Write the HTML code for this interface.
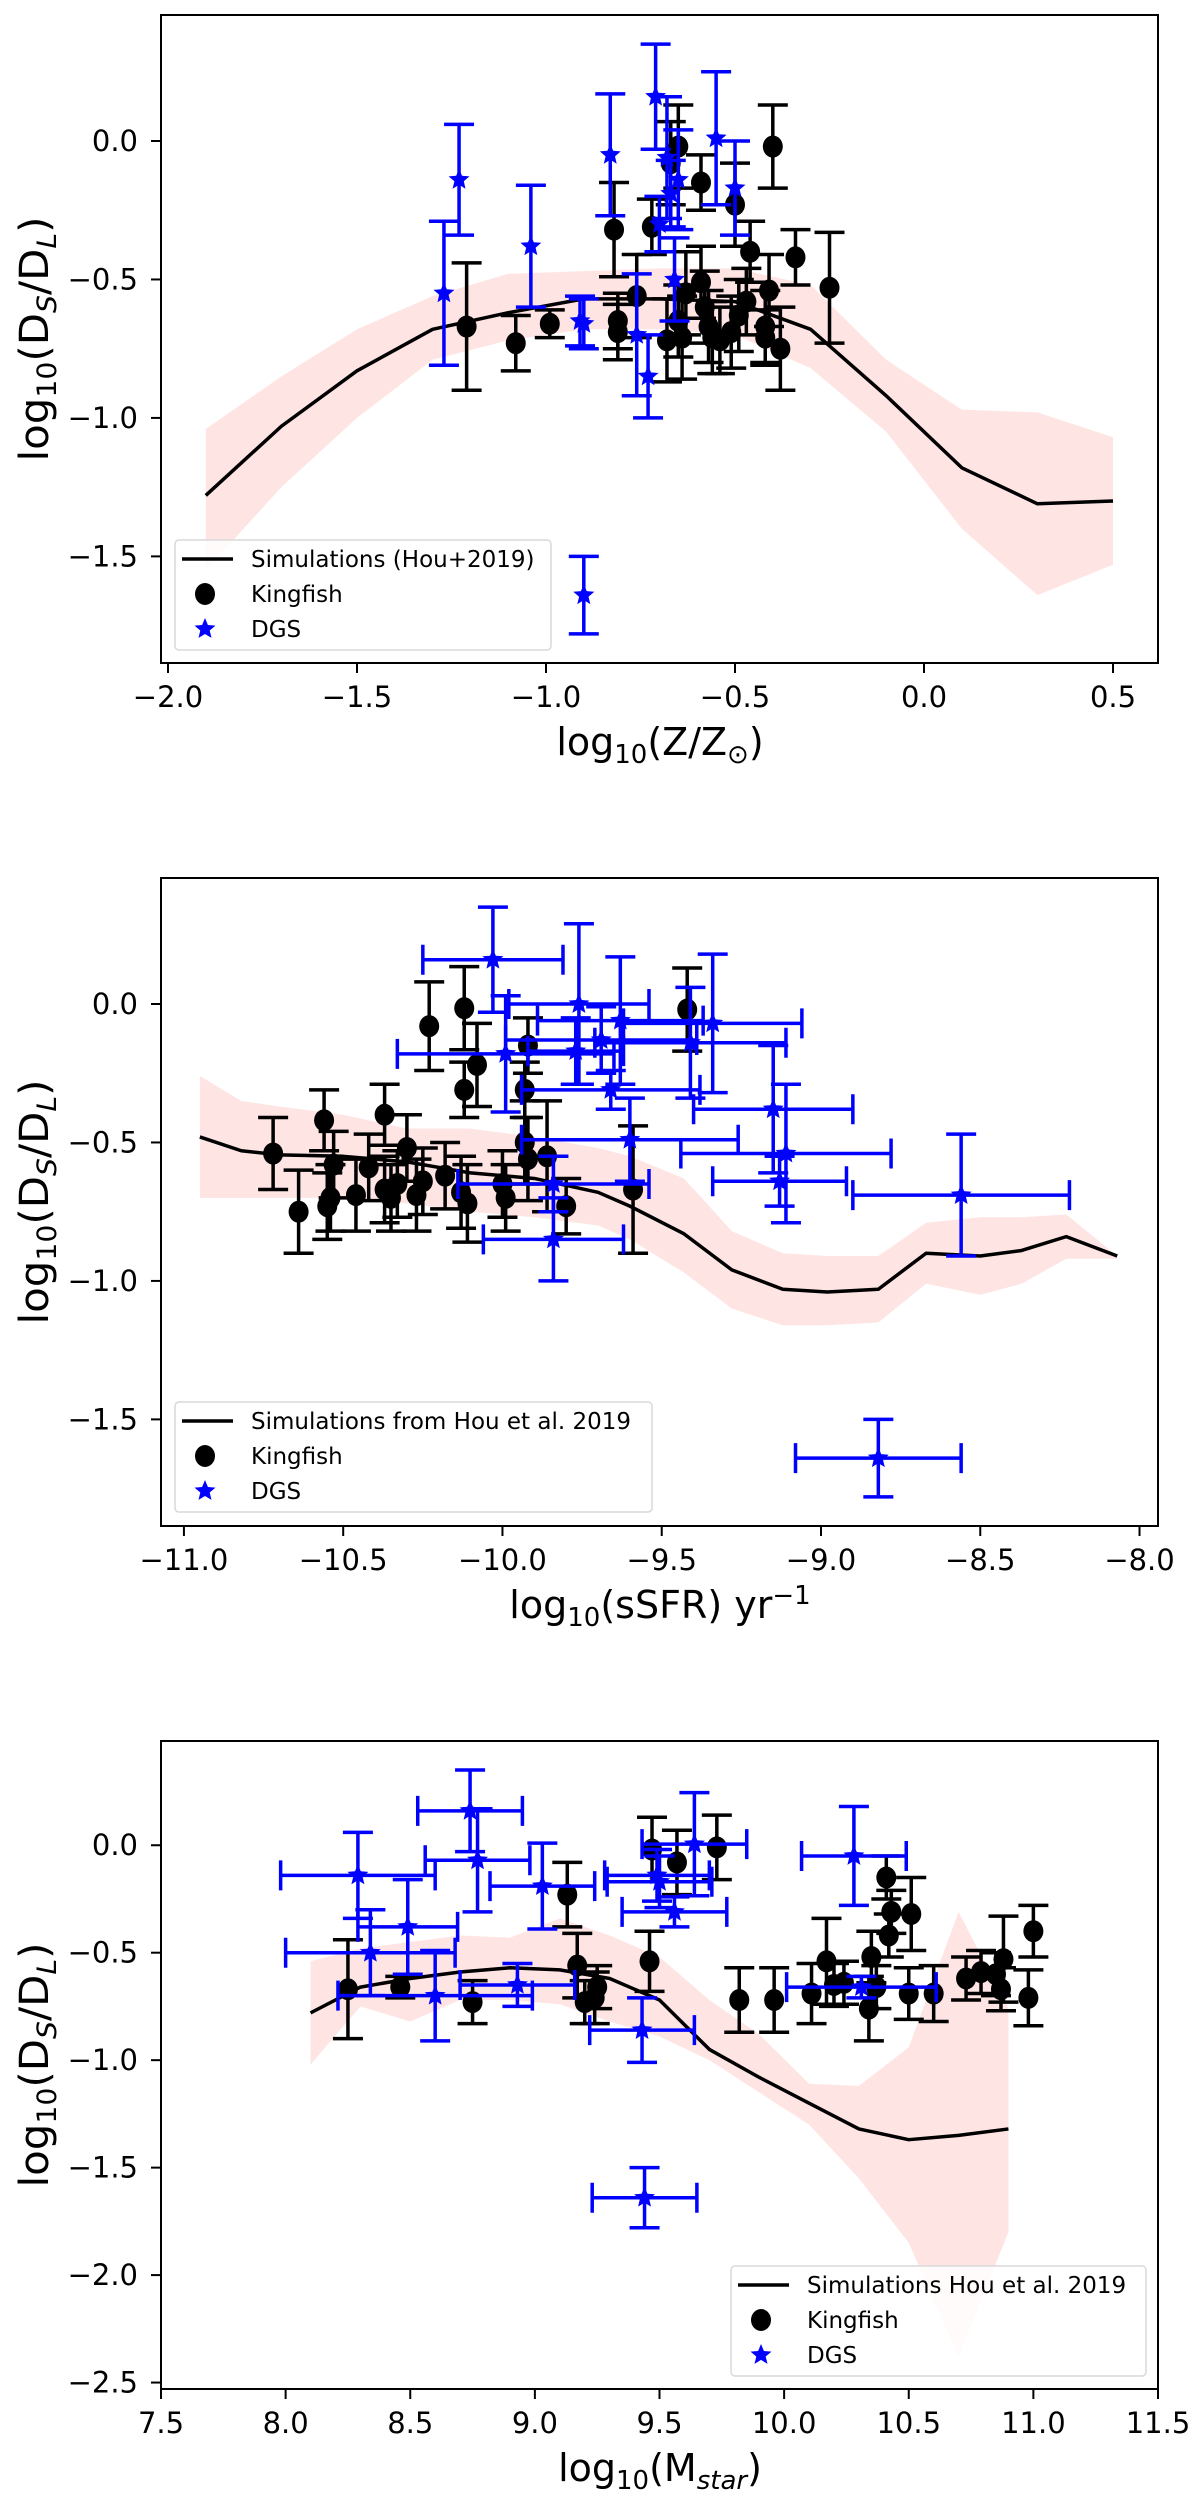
<!DOCTYPE html>
<html><head><meta charset="utf-8"><style>
html,body{margin:0;padding:0;background:#fff;}
svg{display:block;font-family:"DejaVu Sans","Liberation Sans",sans-serif;}
</style></head>
<body>
<svg id="fig" width="1200" height="2496" viewBox="0 0 1200 2496" xmlns="http://www.w3.org/2000/svg"></svg>
<script>
// ---------- Panel 1: metallicity ----------
const p1SimX = [-1.9,-1.7,-1.5,-1.3,-1.1,-0.9,-0.7,-0.5,-0.3,-0.1,0.1,0.3,0.5];
const p1SimY = [-1.28,-1.03,-0.83,-0.68,-0.62,-0.57,-0.57,-0.58,-0.68,-0.92,-1.18,-1.31,-1.30];
const p1BandHi = [-1.04,-0.85,-0.68,-0.56,-0.48,-0.47,-0.46,-0.46,-0.52,-0.79,-0.97,-0.98,-1.07];
const p1BandLo = [-1.55,-1.25,-1.0,-0.79,-0.72,-0.68,-0.68,-0.70,-0.82,-1.05,-1.40,-1.64,-1.53];
const p1KfX = [-1.21,-1.08,-0.99,-0.82,-0.81,-0.81,-0.76,-0.72,-0.68,-0.67,-0.65,-0.65,-0.64,-0.63,-0.59,-0.59,-0.58,-0.57,-0.56,-0.54,-0.51,-0.50,-0.49,-0.47,-0.46,-0.41,-0.42,-0.42,-0.40,-0.38,-0.34,-0.25];
const p1KfY = [-0.67,-0.73,-0.66,-0.32,-0.65,-0.69,-0.56,-0.31,-0.72,-0.08,-0.02,-0.65,-0.71,-0.55,-0.15,-0.51,-0.60,-0.67,-0.71,-0.72,-0.69,-0.23,-0.63,-0.58,-0.40,-0.54,-0.67,-0.71,-0.02,-0.75,-0.42,-0.53];
const p1KfErr = [0.23,0.10,0.05,0.17,0.10,0.10,0.15,0.10,0.15,0.15,0.15,0.13,0.15,0.15,0.10,0.13,0.13,0.13,0.13,0.12,0.13,0.15,0.13,0.12,0.11,0.13,0.13,0.10,0.15,0.15,0.10,0.20];
const p1DgX = [-1.27,-1.23,-1.04,-0.91,-0.90,-0.90,-0.83,-0.76,-0.73,-0.71,-0.70,-0.68,-0.67,-0.66,-0.65,-0.55,-0.50];
const p1DgY = [-0.55,-0.14,-0.38,-0.65,-0.66,-1.64,-0.05,-0.70,-0.85,0.16,-0.30,-0.06,-0.19,-0.50,-0.14,0.01,-0.17];
const p1DgErr = [0.26,0.20,0.22,0.09,0.09,0.14,0.22,0.22,0.15,0.19,0.10,0.22,0.12,0.15,0.18,0.24,0.17];
const p1XTicks = [-2.0,-1.5,-1.0,-0.5,0.0,0.5];
const p1XTickLabels = ["\u22122.0","\u22121.5","\u22121.0","\u22120.5","0.0","0.5"];
const p1YTicks = [0.0,-0.5,-1.0,-1.5];
const p1YTickLabels = ["0.0","\u22120.5","\u22121.0","\u22121.5"];

// ---------- Panel 2: sSFR ----------
const p2SimX = [-10.95,-10.82,-10.7,-10.5,-10.3,-10.1,-9.9,-9.7,-9.6,-9.43,-9.28,-9.12,-8.98,-8.82,-8.67,-8.5,-8.37,-8.23,-8.07];
const p2SimY = [-0.48,-0.53,-0.545,-0.55,-0.57,-0.61,-0.63,-0.68,-0.73,-0.83,-0.96,-1.03,-1.04,-1.03,-0.90,-0.91,-0.89,-0.84,-0.91];
const p2BandHi = [-0.26,-0.35,-0.37,-0.40,-0.45,-0.45,-0.48,-0.52,-0.55,-0.63,-0.82,-0.90,-0.91,-0.91,-0.79,-0.77,-0.77,-0.76,-0.91];
const p2BandLo = [-0.70,-0.70,-0.70,-0.70,-0.72,-0.75,-0.77,-0.80,-0.85,-0.97,-1.10,-1.16,-1.16,-1.15,-1.01,-1.05,-1.01,-0.92,-0.92];
const p2KfX = [-10.72,-10.64,-10.56,-10.55,-10.54,-10.53,-10.46,-10.42,-10.37,-10.37,-10.35,-10.33,-10.30,-10.27,-10.25,-10.23,-10.18,-10.13,-10.12,-10.12,-10.11,-10.08,-10.0,-9.99,-9.93,-9.92,-9.93,-9.92,-9.86,-9.80,-9.59,-9.42];
const p2KfY = [-0.54,-0.75,-0.42,-0.73,-0.70,-0.58,-0.69,-0.59,-0.40,-0.67,-0.70,-0.65,-0.52,-0.69,-0.64,-0.08,-0.62,-0.68,-0.015,-0.31,-0.72,-0.22,-0.65,-0.70,-0.31,-0.15,-0.50,-0.56,-0.55,-0.73,-0.67,-0.02];
const p2KfErr = [0.13,0.15,0.11,0.12,0.12,0.12,0.13,0.12,0.11,0.12,0.12,0.12,0.12,0.13,0.12,0.16,0.12,0.13,0.15,0.10,0.14,0.15,0.12,0.12,0.10,0.10,0.15,0.15,0.20,0.10,0.23,0.15];
const p2DgX = [-10.03,-9.76,-9.99,-9.77,-9.69,-9.63,-9.41,-9.34,-9.66,-9.15,-9.60,-9.11,-9.13,-9.84,-9.84,-8.56,-8.82];
const p2DgY = [0.16,0.00,-0.18,-0.17,-0.13,-0.06,-0.14,-0.07,-0.31,-0.38,-0.49,-0.54,-0.64,-0.65,-0.85,-0.69,-1.64];
const p2DgXErr = [0.22,0.22,0.34,0.15,0.30,0.26,0.30,0.28,0.28,0.25,0.34,0.33,0.21,0.30,0.22,0.34,0.26];
const p2DgYErr = [0.19,0.29,0.21,0.12,0.12,0.23,0.20,0.25,0.07,0.23,0.15,0.25,0.09,0.10,0.15,0.22,0.14];
const p2XTicks = [-11.0,-10.5,-10.0,-9.5,-9.0,-8.5,-8.0];
const p2XTickLabels = ["\u221211.0","\u221210.5","\u221210.0","\u22129.5","\u22129.0","\u22128.5","\u22128.0"];
const p2YTicks = [0.0,-0.5,-1.0,-1.5];
const p2YTickLabels = ["0.0","\u22120.5","\u22121.0","\u22121.5"];

// ---------- Panel 3: stellar mass ----------
const p3SimX = [8.1,8.3,8.5,8.7,8.9,9.1,9.3,9.5,9.7,9.9,10.1,10.3,10.5,10.7,10.9];
const p3SimY = [-0.78,-0.66,-0.62,-0.59,-0.57,-0.58,-0.62,-0.72,-0.95,-1.08,-1.20,-1.32,-1.37,-1.35,-1.32];
const p3BandHi = [-0.54,-0.48,-0.45,-0.42,-0.43,-0.34,-0.42,-0.52,-0.72,-0.88,-1.11,-1.12,-0.94,-0.31,-0.76];
const p3BandLo = [-1.02,-0.75,-0.82,-0.72,-0.72,-0.74,-0.82,-0.89,-1.0,-1.15,-1.30,-1.55,-1.85,-2.38,-1.80];
const p3KfX = [8.25,8.46,8.75,9.13,9.17,9.20,9.24,9.25,9.46,9.47,9.57,9.73,9.82,9.96,10.11,10.17,10.20,10.24,10.34,10.35,10.37,10.41,10.43,10.42,10.51,10.50,10.60,10.73,10.79,10.85,10.87,10.88,10.98,11.00];
const p3KfY = [-0.67,-0.66,-0.73,-0.23,-0.56,-0.73,-0.71,-0.66,-0.54,-0.02,-0.08,-0.01,-0.72,-0.72,-0.69,-0.54,-0.65,-0.64,-0.76,-0.52,-0.66,-0.15,-0.31,-0.42,-0.32,-0.69,-0.69,-0.62,-0.59,-0.60,-0.67,-0.53,-0.71,-0.40];
const p3KfErr = [0.23,0.05,0.10,0.15,0.15,0.10,0.12,0.10,0.14,0.15,0.15,0.15,0.15,0.15,0.14,0.20,0.10,0.10,0.15,0.12,0.10,0.10,0.10,0.10,0.17,0.12,0.13,0.10,0.10,0.10,0.10,0.20,0.13,0.12];
const p3DgX = [8.29,8.34,8.49,8.60,8.74,8.77,8.93,9.03,9.43,9.44,9.49,9.50,9.56,9.64,10.28,10.31];
const p3DgY = [-0.14,-0.50,-0.38,-0.70,0.16,-0.07,-0.65,-0.19,-0.86,-1.64,-0.14,-0.17,-0.31,0.005,-0.05,-0.66];
const p3DgXErr = [0.31,0.34,0.20,0.39,0.21,0.21,0.23,0.21,0.21,0.21,0.21,0.21,0.21,0.21,0.21,0.30];
const p3DgYErr = [0.20,0.20,0.22,0.21,0.19,0.24,0.10,0.20,0.15,0.14,0.12,0.12,0.07,0.24,0.23,0.05];
const p3XTicks = [7.5,8.0,8.5,9.0,9.5,10.0,10.5,11.0,11.5];
const p3XTickLabels = ["7.5","8.0","8.5","9.0","9.5","10.0","10.5","11.0","11.5"];
const p3YTicks = [0.0,-0.5,-1.0,-1.5,-2.0,-2.5];
const p3YTickLabels = ["0.0","\u22120.5","\u22121.0","\u22121.5","\u22122.0","\u22122.5"];

const NS = "http://www.w3.org/2000/svg";
const svg = document.getElementById('fig');
function mk(tag, attrs, parent) {
  const e = document.createElementNS(NS, tag);
  for (const k in attrs) e.setAttribute(k, attrs[k]);
  (parent || svg).appendChild(e);
  return e;
}
function starPath(cx, cy, R) {
  const r = R * 0.45; let d = "";
  for (let i = 0; i < 10; i++) {
    const a = -Math.PI / 2 + i * Math.PI / 5, rr = i % 2 ? r : R;
    d += (i ? "L" : "M") + (cx + rr * Math.cos(a)).toFixed(1) + "," + (cy + rr * Math.sin(a)).toFixed(1);
  }
  return d + "Z";
}

function drawPanel(cfg) {
  const g = mk('g', {});
  
  
  const L = 161, R = 1158, T = cfg.top, B = cfg.top + 648;
  const sx = v => L + (v - cfg.xmin) / (cfg.xmax - cfg.xmin) * (R - L);
  const sy = v => T + (cfg.ymax - v) / (cfg.ymax - cfg.ymin) * (B - T);

  // band
  let d = "";
  cfg.simX.forEach((x, i) => { d += (i ? "L" : "M") + sx(x) + "," + sy(cfg.hi[i]); });
  for (let i = cfg.simX.length - 1; i >= 0; i--) d += "L" + sx(cfg.simX[i]) + "," + sy(cfg.lo[i]);
  const band = mk('path', { d: d + "Z", fill: "#ffe4e4", stroke: "none" }, g);
  
  
  // sim line
  let ld = "";
  cfg.simX.forEach((x, i) => { ld += (i ? "L" : "M") + sx(x) + "," + sy(cfg.simY[i]); });
  const line = mk('path', { d: ld, fill: "none", stroke: "#000", "stroke-width": 3.5, "stroke-linejoin": "round" }, g);
  
  

  // kingfish
  const kg = mk('g', {}, g);
  
  
  cfg.kfX.forEach((x, i) => {
    const cx = sx(x), cy = sy(cfg.kfY[i]), y1 = sy(cfg.kfY[i] + cfg.kfErr[i]), y2 = sy(cfg.kfY[i] - cfg.kfErr[i]);
    mk('path', { d: `M${cx},${y1}V${y2}M${cx - 15},${y1}H${cx + 15}M${cx - 15},${y2}H${cx + 15}`, stroke: "#000", "stroke-width": 3.5, fill: "none" }, kg);
    const c = mk('ellipse', { cx: cx, cy: cy, rx: 10, ry: 11, fill: "#000" }, kg);
    
    
  });
  // dgs
  const dg = mk('g', {}, g);
  
  
  cfg.dgX.forEach((x, i) => {
    const cx = sx(x), cy = sy(cfg.dgY[i]), ye = cfg.dgYErr[i];
    const y1 = sy(cfg.dgY[i] + ye), y2 = sy(cfg.dgY[i] - ye);
    let p = `M${cx},${y1}V${y2}M${cx - 15},${y1}H${cx + 15}M${cx - 15},${y2}H${cx + 15}`;
    if (cfg.dgXErr) {
      const x1 = sx(x - cfg.dgXErr[i]), x2 = sx(x + cfg.dgXErr[i]);
      p += `M${x1},${cy}H${x2}M${x1},${cy - 15}V${cy + 15}M${x2},${cy - 15}V${cy + 15}`;
    }
    mk('path', { d: p, stroke: "#0000ff", "stroke-width": 3.5, fill: "none" }, dg);
    const s = mk('path', { d: starPath(cx, cy, 11), fill: "#0000ff" }, dg);
    
    
  });

  // frame
  const fr = mk('rect', { x: L, y: T, width: R - L, height: B - T, fill: "none", stroke: "#000", "stroke-width": 2 }, g);
  
  
  // x ticks
  cfg.xTicks.forEach((v, i) => {
    const x = sx(v);
    mk('line', { x1: x, y1: B, x2: x, y2: B + 10, stroke: "#000", "stroke-width": 2 }, g);
    const t = mk('text', { x: x, y: B + 44, "font-size": 29, "text-anchor": "middle", fill: "#000" }, g);
    t.textContent = cfg.xLabels[i];
    
    
  });
  cfg.yTicks.forEach((v, i) => {
    const y = sy(v);
    mk('line', { x1: L - 10, y1: y, x2: L, y2: y, stroke: "#000", "stroke-width": 2 }, g);
    const t = mk('text', { x: 138, y: y + 10, "font-size": 29, "text-anchor": "end", fill: "#000" }, g);
    t.textContent = cfg.yLabels[i];
    
    
  });
  // y-axis title
  const yt = mk('text', { x: 0, y: 0, "font-size": 40, "text-anchor": "middle", fill: "#000", transform: `translate(48,${(T + B) / 2}) rotate(-90)`, textLength: 245, lengthAdjust: "spacingAndGlyphs" }, g);
  yt.innerHTML = 'log<tspan font-size="27" dy="8">10</tspan><tspan dy="-8">(D</tspan><tspan font-size="27" font-style="italic" dy="8">S</tspan><tspan dy="-8">/D</tspan><tspan font-size="27" font-style="italic" dy="8">L</tspan><tspan dy="-8">)</tspan>';
  
  
  // x-axis title
  const xt = mk('text', { x: 660, y: B + 92, "font-size": 38, "text-anchor": "middle", fill: "#000" }, g);
  xt.innerHTML = cfg.xTitle;
  
  

  // legend
  const lg = mk('g', {}, g);
  
  
  const lb = cfg.legend;
  mk('rect', { x: lb.x, y: lb.y, width: lb.w, height: 110, rx: 4, fill: "#fff", "fill-opacity": 0.85, stroke: "#d9d9d9", "stroke-width": 1.5 }, lg);
  const mx = lb.x + 30, tx = lb.x + 76;
  const r1 = lb.y + 19, r2 = lb.y + 54, r3 = lb.y + 89;
  mk('line', { x1: lb.x + 7, y1: r1, x2: lb.x + 58, y2: r1, stroke: "#000", "stroke-width": 3.5 }, lg);
  mk('ellipse', { cx: mx, cy: r2, rx: 10, ry: 11, fill: "#000" }, lg);
  mk('path', { d: starPath(mx, r3, 11), fill: "#0000ff" }, lg);
  [[r1, lb.sim], [r2, "Kingfish"], [r3, "DGS"]].forEach(([ry, txt]) => {
    const t = mk('text', { x: tx, y: ry + 8, "font-size": 23, fill: "#000" }, lg);
    t.textContent = txt;
    
    
  });
}

drawPanel({ name: "metallicity-panel", top: 15, xmin: -2.0185, xmax: 0.619, ymin: -1.885, ymax: 0.455,
  simX: p1SimX, simY: p1SimY, hi: p1BandHi, lo: p1BandLo,
  kfX: p1KfX, kfY: p1KfY, kfErr: p1KfErr, dgX: p1DgX, dgY: p1DgY, dgYErr: p1DgErr, dgXErr: null,
  xTicks: p1XTicks, xLabels: p1XTickLabels, yTicks: p1YTicks, yLabels: p1YTickLabels,
  xTitle: 'log<tspan font-size="26" dy="8">10</tspan><tspan dy="-8">(Z/Z</tspan><tspan font-size="26" dy="8">\u2299</tspan><tspan dy="-8">)</tspan>',
  legend: { x: 175, y: 540, w: 376, sim: "Simulations (Hou+2019)" } });

drawPanel({ name: "ssfr-panel", top: 878, xmin: -11.072, xmax: -7.942, ymin: -1.885, ymax: 0.455,
  simX: p2SimX, simY: p2SimY, hi: p2BandHi, lo: p2BandLo,
  kfX: p2KfX, kfY: p2KfY, kfErr: p2KfErr, dgX: p2DgX, dgY: p2DgY, dgYErr: p2DgYErr, dgXErr: p2DgXErr,
  xTicks: p2XTicks, xLabels: p2XTickLabels, yTicks: p2YTicks, yLabels: p2YTickLabels,
  xTitle: 'log<tspan font-size="26" dy="8">10</tspan><tspan dy="-8">(sSFR) yr</tspan><tspan font-size="26" dy="-14">\u22121</tspan>',
  legend: { x: 175, y: 1402, w: 477, sim: "Simulations from Hou et al. 2019" } });

drawPanel({ name: "stellar-mass-panel", top: 1741, xmin: 7.5, xmax: 11.5, ymin: -2.53, ymax: 0.485,
  simX: p3SimX, simY: p3SimY, hi: p3BandHi, lo: p3BandLo,
  kfX: p3KfX, kfY: p3KfY, kfErr: p3KfErr, dgX: p3DgX, dgY: p3DgY, dgYErr: p3DgYErr, dgXErr: p3DgXErr,
  xTicks: p3XTicks, xLabels: p3XTickLabels, yTicks: p3YTicks, yLabels: p3YTickLabels,
  xTitle: 'log<tspan font-size="26" dy="8">10</tspan><tspan dy="-8">(M</tspan><tspan font-size="26" font-style="italic" dy="8">star</tspan><tspan dy="-8">)</tspan>',
  legend: { x: 731, y: 2266, w: 415, sim: "Simulations Hou et al. 2019" } });
</script>
</body></html>
